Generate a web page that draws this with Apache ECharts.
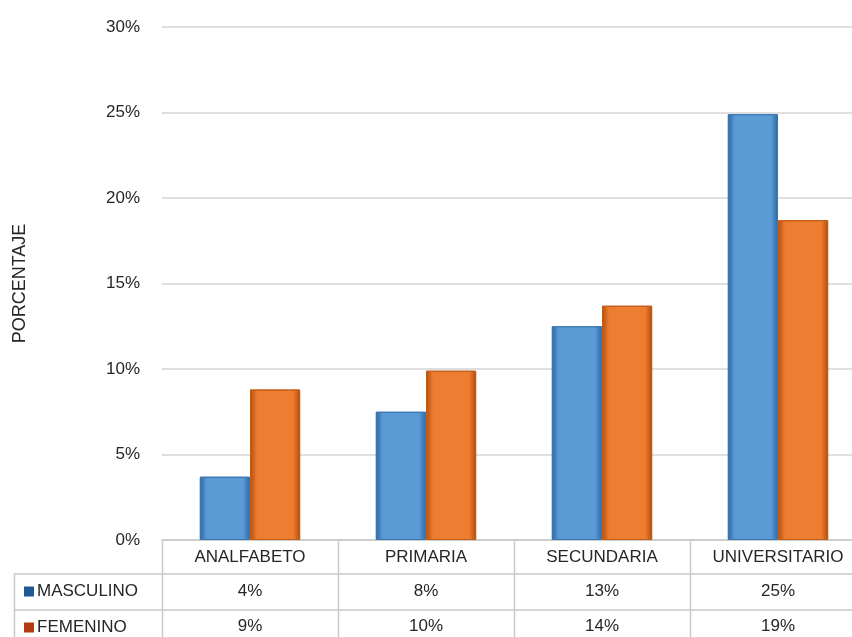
<!DOCTYPE html>
<html>
<head>
<meta charset="utf-8">
<script src="https://cdn.jsdelivr.net/npm/echarts@6/dist/echarts.min.js"></script>
<style>
  html, body { margin: 0; padding: 0; background: #fff; }
  #chart { width: 852px; height: 637px; }
</style>
</head>
<body>
<div id="chart"></div>
<script>
// Nivel educativo por sexo (porcentaje)
const categories = ['ANALFABETO', 'PRIMARIA', 'SECUNDARIA', 'UNIVERSITARIO'];
const seriesNames = ['MASCULINO', 'FEMENINO'];
const masculino = [3.7, 7.5, 12.5, 24.9];
const femenino = [8.8, 9.9, 13.7, 18.7];
const yTicks = [0, 5, 10, 15, 20, 25, 30];

const FONT = 'Liberation Sans';
const TEXT = '#262626';
const LINE = '#c8c8c8';

const pct = v => Math.round(v) + '%';

function bevel(edge, base) {
  return {
    type: 'linear', x: 0, y: 0, x2: 1, y2: 0,
    colorStops: [
      { offset: 0, color: edge },
      { offset: 0.14, color: base },
      { offset: 0.86, color: base },
      { offset: 1, color: edge }
    ]
  };
}

const chart = echarts.init(document.getElementById('chart'), null, { renderer: 'canvas' });

const option = {
  animation: false,
  backgroundColor: '#ffffff',
  grid: {
    left: 162, right: -14, top: 27, bottom: 97,
    containLabel: false,
    outerBoundsMode: 'none'
  },
  xAxis: {
    type: 'category',
    data: categories,
    axisLine: { show: true, lineStyle: { color: LINE, width: 1.5 } },
    axisTick: { show: false },
    axisLabel: {
      interval: 0,
      margin: 0,
      hideOverlap: false,
      formatter: (name, i) =>
        '{c|' + name + '}\n{v|' + pct(masculino[i]) + '}\n{v|' + pct(femenino[i]) + '}',
      rich: {
        c: { fontFamily: FONT, fontSize: 17, color: TEXT, lineHeight: 34, height: 34 },
        v: { fontFamily: FONT, fontSize: 17, color: TEXT, lineHeight: 35, height: 35 }
      }
    }
  },
  yAxis: {
    type: 'value',
    min: yTicks[0],
    max: yTicks[yTicks.length - 1],
    interval: 5,
    name: 'PORCENTAJE',
    nameLocation: 'middle',
    nameGap: 133,
    nameRotate: 90,
    nameTextStyle: { fontFamily: FONT, fontSize: 18, color: TEXT },
    axisLine: { show: false },
    axisTick: { show: false },
    axisLabel: {
      margin: 22,
      fontFamily: FONT, fontSize: 17, color: TEXT,
      formatter: v => v + '%'
    },
    splitLine: { lineStyle: { color: '#d4d4d4', width: 1.5 } }
  },
  series: [
    {
      name: seriesNames[0],
      type: 'bar',
      data: masculino,
      barGap: '0%',
      barCategoryGap: '43%',
      itemStyle: { color: bevel('#2c66a0', '#5b9bd5'), borderColor: '#3b77b3', borderWidth: 1 }
    },
    {
      name: seriesNames[1],
      type: 'bar',
      data: femenino,
      itemStyle: { color: bevel('#b24d0c', '#ed7d31'), borderColor: '#c45c16', borderWidth: 1 }
    }
  ]
};

chart.setOption(option);

// Data table frame and row headers, placed from the category axis scale
function drawTable() {
  const x0 = chart.convertToPixel({ xAxisIndex: 0 }, 0);
  const x1 = chart.convertToPixel({ xAxisIndex: 0 }, 1);
  const band = x1 - x0;
  const yAxis0 = chart.convertToPixel({ yAxisIndex: 0 }, 0);
  const row1 = yAxis0 + 34;
  const row2 = row1 + 36;
  const bottom = 640;
  const leftEdge = 14;
  const W = 852;
  const els = [];
  const lineStyle = { stroke: LINE, lineWidth: 1.5 };
  for (let i = 0; i <= categories.length; i++) {
    const x = Math.round(x0 - band / 2 + i * band) + 0.5;
    els.push({ type: 'line', shape: { x1: x, y1: yAxis0, x2: x, y2: bottom }, style: lineStyle, silent: true });
  }
  els.push({ type: 'line', shape: { x1: leftEdge + 0.5, y1: row1, x2: leftEdge + 0.5, y2: bottom }, style: lineStyle, silent: true });
  [row1, row2].forEach(y => {
    els.push({ type: 'line', shape: { x1: leftEdge, y1: y, x2: W, y2: y }, style: lineStyle, silent: true });
  });
  const keyColors = ['#1f5a96', '#b23c12'];
  [row1, row2].forEach((y, k) => {
    const cy = y + 17.5;
    els.push({ type: 'rect', shape: { x: 24, y: cy - 5, width: 10, height: 10 }, style: { fill: keyColors[k] }, silent: true });
    els.push({
      type: 'text', x: 37, y: cy, silent: true,
      style: { text: seriesNames[k], font: '17px "' + FONT + '"', fill: TEXT, verticalAlign: 'middle', align: 'left' }
    });
  });
  chart.setOption({ graphic: { elements: els } });
}
drawTable();
</script>
</body>
</html>
